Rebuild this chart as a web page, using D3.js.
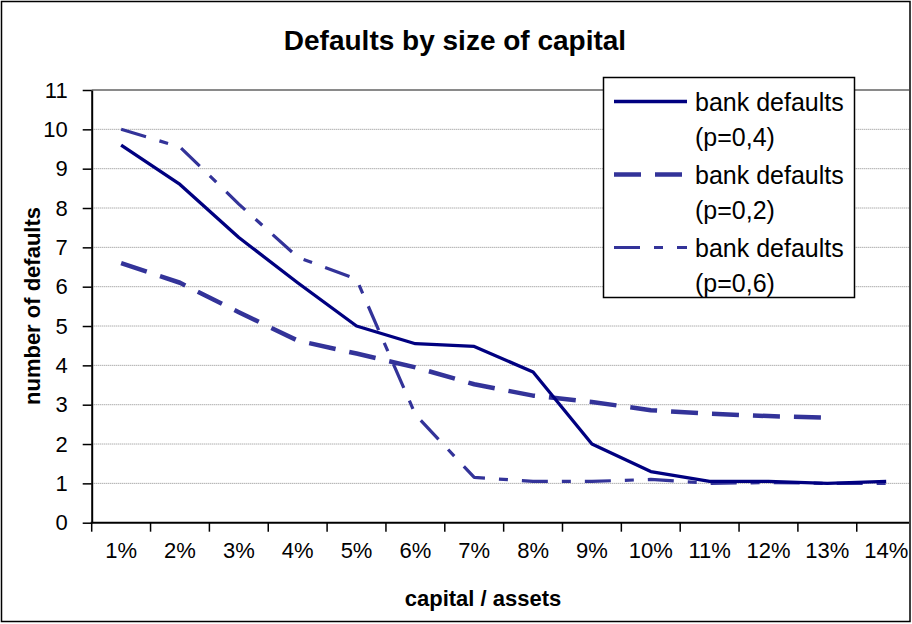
<!DOCTYPE html>
<html>
<head>
<meta charset="utf-8">
<script src="https://cdn.jsdelivr.net/npm/d3@7"></script>
<style>
  body { margin: 0; background: #fff; }
  text { font-family: Arial, "Liberation Sans", sans-serif; fill: #000; }
</style>
</head>
<body>
<svg></svg>
<script>

/*data*/
let categories = ["1%", "2%", "3%", "4%", "5%", "6%", "7%", "8%", "9%", "10%", "11%", "12%", "13%", "14%"];
let defaultsP04 = [9.6, 8.6, 7.25, 6.1, 5.0, 4.55, 4.48, 3.83, 2.0, 1.3, 1.05, 1.05, 1.0, 1.05];
let defaultsP02 = [6.6, 6.1, 5.35, 4.63, 4.3, 3.95, 3.52, 3.23, 3.07, 2.86, 2.77, 2.71, 2.67];
let defaultsP06 = [10.0, 9.55, 8.1, 6.75, 6.19, 2.75, 1.15, 1.05, 1.05, 1.1, 1.0, 1.02, 1.0, 1.0];
let yTicks = [0, 1, 2, 3, 4, 5, 6, 7, 8, 9, 10, 11];
let seriesNames = ["bank defaults|(p=0,4)", "bank defaults|(p=0,2)", "bank defaults|(p=0,6)"];

/*basic setup*/
let svgWidth = 912;
let svgHeight = 624;
const svg = d3.select('svg')
    .attr("width", svgWidth)
    .attr("height", svgHeight);

let plotLeft = 91.7;
let plotTop = 90;
let plotBottom = 522.7;
let plotRight = 909;
let catWidth = 58.85;

// chart frame
svg.append("rect")
    .attr("x", 1.5).attr("y", 1.5)
    .attr("width", 908.5).attr("height", 620)
    .attr("fill", "#fff")
    .attr("stroke", "#000")
    .attr("stroke-width", 1.5);

svg.append("clipPath").attr("id", "plotClip")
    .append("rect")
    .attr("x", plotLeft - 2).attr("y", plotTop - 10)
    .attr("width", plotRight - plotLeft + 2).attr("height", plotBottom - plotTop + 20);

/*scales*/
let xScale = d3.scaleBand()
    .domain(categories)
    .range([plotLeft, plotLeft + catWidth * categories.length]);

let yScale = d3.scaleLinear()
    .domain([0, 11])
    .range([plotBottom, plotTop]);

let plot = svg.append("g").attr("clip-path", "url(#plotClip)");

/* gridlines */
plot.selectAll("line.grid")
    .data(yTicks.filter(d => d > 0 && d < 11))
    .enter()
    .append("line")
    .attr("class", "grid")
    .attr("x1", plotLeft).attr("x2", plotRight)
    .attr("y1", d => yScale(d)).attr("y2", d => yScale(d))
    .attr("stroke", "#8a8a8a")
    .attr("stroke-width", 1)
    .attr("stroke-dasharray", "1,1");

// top edge of plot area
plot.append("line")
    .attr("x1", plotLeft).attr("x2", plotRight)
    .attr("y1", yScale(11)).attr("y2", yScale(11))
    .attr("stroke", "#8a8a8a")
    .attr("stroke-width", 2);

/* lines */
let lineGen = d3.line()
    .x((d, i) => xScale(categories[i]) + xScale.bandwidth() / 2)
    .y(d => yScale(d));

let seriesList = [
    { values: defaultsP02, color: "#333399", width: 4.5, dash: "27,14" },
    { values: defaultsP06, color: "#333399", width: 3.2, dash: "26,14,9,14" },
    { values: defaultsP04, color: "#000080", width: 3.3, dash: null }
];

plot.selectAll("path.series")
    .data(seriesList)
    .enter()
    .append("path")
    .attr("class", "series")
    .attr("d", d => lineGen(d.values))
    .attr("fill", "none")
    .attr("stroke", d => d.color)
    .attr("stroke-width", d => d.width)
    .attr("stroke-dasharray", d => d.dash)
    .attr("stroke-linejoin", "round");

/* y axis */
let yAxis = svg.append("g")
    .attr("transform", "translate(" + plotLeft + ",0)")
    .call(d3.axisLeft(yScale).tickValues(yTicks).tickSize(9).tickPadding(15).tickSizeOuter(0));
yAxis.select(".domain").attr("stroke", "#000").attr("stroke-width", 2);
yAxis.selectAll(".tick line").attr("stroke", "#000").attr("stroke-width", 1.5);
yAxis.selectAll("text").style("font-size", "22px");

/* x axis */
let xAxis = svg.append("g")
    .attr("transform", "translate(0," + plotBottom + ")")
    .call(d3.axisBottom(xScale).tickSize(0).tickPadding(20));
xAxis.select(".domain").remove();
xAxis.selectAll("text").style("font-size", "22px");

plot.append("line")
    .attr("x1", plotLeft - 1).attr("x2", plotRight)
    .attr("y1", plotBottom).attr("y2", plotBottom)
    .attr("stroke", "#000").attr("stroke-width", 2);

svg.selectAll("line.xtick")
    .data(categories)
    .enter()
    .append("line")
    .attr("class", "xtick")
    .attr("x1", d => xScale(d)).attr("x2", d => xScale(d))
    .attr("y1", plotBottom).attr("y2", plotBottom + 9)
    .attr("stroke", "#000").attr("stroke-width", 1.5);

/* titles */
svg.append("text")
    .attr("x", 455).attr("y", 50)
    .attr("text-anchor", "middle")
    .style("font-size", "28px").style("font-weight", "bold")
    .text("Defaults by size of capital");

svg.append("text")
    .attr("x", 483).attr("y", 606)
    .attr("text-anchor", "middle")
    .style("font-size", "22px").style("font-weight", "bold")
    .text("capital / assets");

svg.append("text")
    .attr("transform", "translate(40,306) rotate(-90)")
    .attr("text-anchor", "middle")
    .style("font-size", "22px").style("font-weight", "bold")
    .text("number of defaults");

/* legend */
let legend = svg.append("g");
legend.append("rect")
    .attr("x", 603.5).attr("y", 77.5)
    .attr("width", 251).attr("height", 220)
    .attr("fill", "#fff")
    .attr("stroke", "#000")
    .attr("stroke-width", 1.5);

let legendOrder = [seriesList[2], seriesList[0], seriesList[1]];
let legendItems = legend.selectAll("g.item")
    .data(legendOrder)
    .enter()
    .append("g")
    .attr("class", "item")
    .attr("transform", (d, i) => "translate(0," + (101.5 + i * 73) + ")");

legendItems.append("line")
    .attr("x1", 614).attr("x2", 687)
    .attr("y1", 0).attr("y2", 0)
    .attr("stroke", d => d.color)
    .attr("stroke-width", d => d.width)
    .attr("stroke-dasharray", d => d.dash);

legendItems.append("text")
    .attr("x", 695).attr("y", 9)
    .style("font-size", "25px")
    .text((d, i) => seriesNames[i].split("|")[0]);

legendItems.append("text")
    .attr("x", 695).attr("y", 44.5)
    .style("font-size", "25px")
    .text((d, i) => seriesNames[i].split("|")[1]);

</script>
</body>
</html>
